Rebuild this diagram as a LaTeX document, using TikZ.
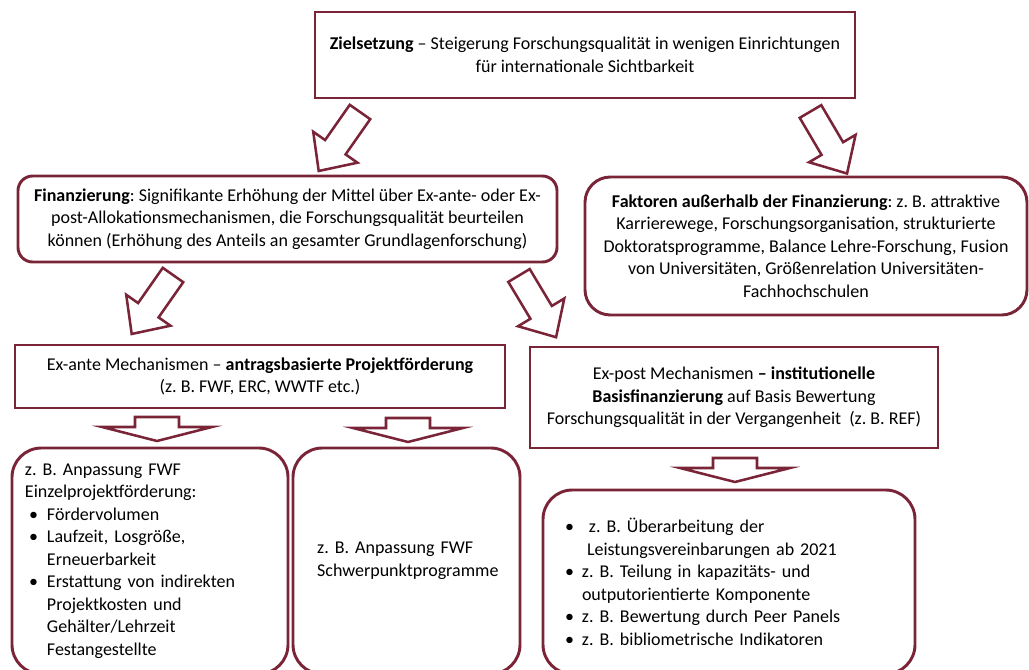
\documentclass[tikz,border=0pt]{standalone}
\usepackage{fontspec}
\setmainfont{Carlito}
\frenchspacing
\definecolor{maroon}{RGB}{122,36,56}
\newcommand\bitem{\hspace*{3pt}\makebox[13.5pt][l]{•}}
\newcommand\bind{\hspace*{16.5pt}}
\begin{document}
\begin{tikzpicture}[x=0.75pt,y=-0.75pt,
  box/.style={draw=maroon, line width=2.2pt, inner sep=0pt, align=center,
    font=\fontsize{13.5pt}{16.9pt}\selectfont\frenchspacing},
  rbox/.style={box, rounded corners=#1},
  barrow/.style={draw=maroon, line width=1.9pt, fill=white, line join=miter}]
\useasboundingbox (0,0) rectangle (1029,670);
\clip (0,0) rectangle (1029,670);

\node[box, minimum width=405pt, minimum height=64.5pt] (ziel) at (585,55)
  {\textbf{Zielsetzung} – Steigerung Forschungsqualität in wenigen Einrichtungen\\für internationale Sichtbarkeit};

\node[rbox=11pt, minimum width=404.25pt, minimum height=64.5pt] (fin) at (287.5,219)
  {\textbf{Finanzierung}: Signifikante Erhöhung der Mittel über Ex-ante- oder Ex-\\post-Allokationsmechanismen, die Forschungsqualität beurteilen\\können (Erhöhung des Anteils an gesamter Grundlagenforschung)};

\node[rbox=19pt, minimum width=331.5pt, minimum height=103.5pt] (fak) at (806,246)
  {\textbf{Faktoren außerhalb der Finanzierung}: z. B. attraktive\\Karrierewege, Forschungsorganisation, strukturierte\\Doktoratsprogramme, Balance Lehre-Forschung, Fusion\\von Universitäten, Größenrelation Universitäten-\\Fachhochschulen};

\node[box, minimum width=367.5pt, minimum height=47.25pt] (exa) at (260,376.5)
  {Ex-ante Mechanismen – \textbf{antragsbasierte Projektförderung}\\(z. B. FWF, ERC, WWTF etc.)};

\node[box, minimum width=306pt, minimum height=75.75pt] (exp) at (734,397.5)
  {Ex-post Mechanismen \textbf{– institutionelle}\\\textbf{Basisfinanzierung} auf Basis Bewertung\\Forschungsqualität in der Vergangenheit\ \ (z. B. REF)};

\node[rbox=22pt, minimum width=207pt, minimum height=169.5pt, text width=187.5pt, align=left] (bl) at (150,561)
  {z. B. Anpassung FWF\\Einzelprojektförderung:\\\bitem Fördervolumen\\\bitem Laufzeit, Losgröße,\\\bind Erneuerbarkeit\\\bitem Erstattung von indirekten\\\bind Projektkosten und\\\bind Gehälter/Lehrzeit\\\bind Festangestellte};

\node[rbox=22pt, minimum width=170.25pt, minimum height=169.5pt, text width=134pt, align=left] (bm) at (406.5,561)
  {z. B. Anpassung FWF\\Schwerpunktprogramme};

\node[rbox=22pt, minimum width=279pt, minimum height=138pt, text width=246pt, align=left] (br) at (729,582)
  {\makebox[18pt][l]{•}z. B. Überarbeitung der\\\hspace*{16.5pt}Leistungsvereinbarungen ab 2021\\\makebox[12.75pt][l]{•}z. B. Teilung in kapazitäts- und\\\hspace*{12.75pt}outputorientierte Komponente\\\makebox[12.75pt][l]{•}z. B. Bewertung durch Peer Panels\\\makebox[12.75pt][l]{•}z. B. bibliometrische Indikatoren};

% diagonal block arrows
\coordinate (a1) at (360,112);
\coordinate (a2) at (810.5,111.5);
\coordinate (a3) at (173,275);
\coordinate (a4) at (519,275.5);
\draw[barrow, shift={(a1)}, rotate=235] (0,-12.5) -- (43,-12.5) -- (43,-27) -- (72,0) -- (43,27) -- (43,12.5) -- (0,12.5) -- cycle;
\draw[barrow, shift={(a2)}, rotate=300.5] (0,-12.5) -- (43,-12.5) -- (43,-27) -- (72,0) -- (43,27) -- (43,12.5) -- (0,12.5) -- cycle;
\draw[barrow, shift={(a3)}, rotate=235] (0,-12.5) -- (43,-12.5) -- (43,-27) -- (72,0) -- (43,27) -- (43,12.5) -- (0,12.5) -- cycle;
\draw[barrow, shift={(a4)}, rotate=301] (0,-12.5) -- (43,-12.5) -- (43,-27) -- (72,0) -- (43,27) -- (43,12.5) -- (0,12.5) -- cycle;

% flat down arrows
\coordinate (d1) at (157,417);
\coordinate (d2) at (408,418);
\coordinate (d3) at (735,458);
\foreach \c in {d1,d2,d3}
  \draw[barrow, shift={(\c)}] (-22,0) -- (22,0) -- (22,10) -- (55,10) -- (0,24) -- (-55,10) -- (-22,10) -- cycle;
\end{tikzpicture}
\end{document}
